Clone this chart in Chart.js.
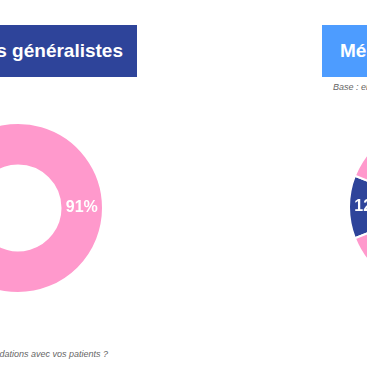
<!DOCTYPE html>
<html>
<head>
<meta charset="utf-8">
<script src="https://cdn.jsdelivr.net/npm/chart.js@4"></script>
<style>
  html, body { margin: 0; padding: 0; background: #fff; }
  #page { position: relative; width: 367px; height: 367px; overflow: hidden; font-family: "Liberation Sans", Arial, sans-serif; }
  .title { position: absolute; top: 25px; height: 52px; line-height: 52px; color: #fff; font-weight: bold; font-size: 19px; white-space: nowrap; }
  #t1 { left: -163px; width: 300px; background: #2e449a; text-align: right; padding-right: 14px; box-sizing: border-box; }
  #t2 { left: 322px; width: 240px; background: #4d9cff; padding-left: 18px; box-sizing: border-box; }
  .note { position: absolute; font-size: 9px; font-style: italic; color: #666; white-space: nowrap; }
  #base2 { left: 333px; top: 82px; }
  #question { right: 259px; top: 349px; }
  canvas { position: absolute; }
  #chart1 { left: -68px; top: 122px; }
  #chart2 { left: 348px; top: 121px; }
</style>
</head>
<body>
<div id="page">
  <div class="title" id="t1">Médecins généralistes</div>
  <div class="title" id="t2">Médecins spécialistes</div>
  <div class="note" id="base2">Base : ensemble des médecins</div>
  <div class="note" id="question">Question : Abordez-vous ces recommandations avec vos patients ?</div>
  <canvas id="chart1" width="172" height="172"></canvas>
  <canvas id="chart2" width="172" height="172"></canvas>
</div>
<script>
// data
const labels = ['Oui', 'Non'];
const generalistes = [91, 9];
const specialistes = [12, 88];
const colorsGen = ['#ff99cc', '#2e449a'];
const colorsSpe = ['#2e449a', '#ff99cc'];

// write the % on each slice
const sliceLabels = {
    id: 'sliceLabels',
    afterDatasetsDraw(chart) {
        const ctx = chart.ctx;
        const ds = chart.data.datasets[0];
        chart.getDatasetMeta(0).data.forEach((arc, i) => {
            const pos = arc.tooltipPosition();
            ctx.save();
            ctx.fillStyle = '#fff';
            ctx.font = 'bold 16px "Liberation Sans", Arial, sans-serif';
            ctx.textAlign = 'center';
            ctx.textBaseline = 'middle';
            ctx.fillText(ds.data[i] + '%', pos.x, pos.y);
            ctx.restore();
        });
    }
};

// turn the doughnut so the first slice is centred on the given angle
function makeDonut(id, values, colors, centreAngle) {
    const total = values.reduce((a, b) => a + b, 0);
    return new Chart(document.getElementById(id), {
        type: 'doughnut',
        data: {
            labels: labels,
            datasets: [{
                data: values,
                backgroundColor: colors,
                borderColor: '#fff',
                borderWidth: 2
            }]
        },
        options: {
            responsive: false,
            animation: false,
            cutout: '50%',
            rotation: centreAngle - (values[0] / total) * 180,
            layout: { padding: 0 },
            plugins: {
                legend: { display: false },
                tooltip: { enabled: false }
            }
        },
        plugins: [sliceLabels]
    });
}

makeDonut('chart1', generalistes, colorsGen, 90);
makeDonut('chart2', specialistes, colorsSpe, 270);
</script>
</body>
</html>
